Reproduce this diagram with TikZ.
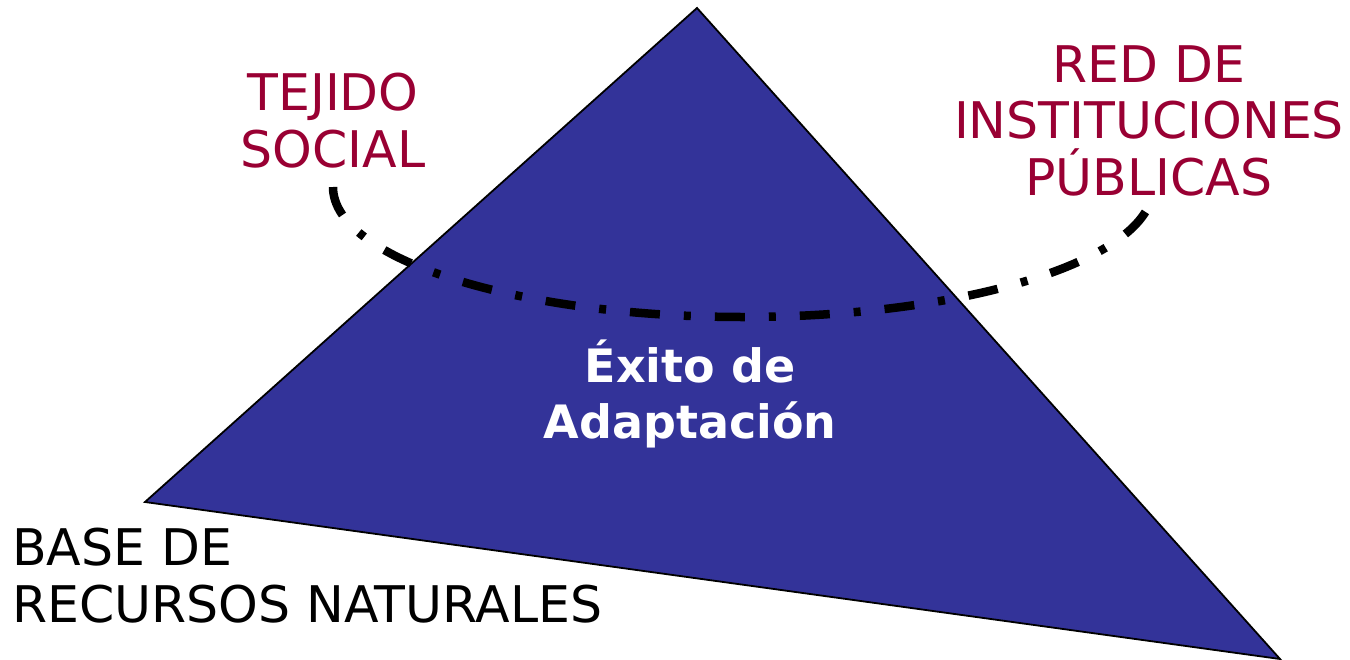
\documentclass[tikz,border=0pt]{standalone}
\usepackage{fontspec}
\setmainfont{DejaVu Sans}
\definecolor{triblue}{HTML}{333399}
\definecolor{lblred}{HTML}{990033}
\tikzset{
  lbl/.style={inner sep=0pt, align=center, font=\fontsize{50.5}{56.5}\selectfont},
  redlbl/.style={lbl, text=lblred},
  centerlbl/.style={inner sep=0pt, align=center, text=white, font=\fontsize{46}{56}\selectfont\bfseries},
  tri/.style={fill=triblue, draw=black, line width=1.8pt, line join=miter},
  dashdot/.style={line width=8.5pt, dash pattern=on 30pt off 24pt on 7pt off 24pt}
}
\begin{document}
\begin{tikzpicture}[x=1pt,y=-1pt]
\useasboundingbox (0,0) rectangle (1350,659);
\coordinate (top) at (697,8);
\coordinate (left) at (145,502);
\coordinate (right) at (1280,659);
\path[tri] (top) -- (left) -- (right) -- cycle;
\coordinate (arcstart) at (333,187);
\draw[dashdot] (arcstart) arc[start angle=180, end angle=356, x radius=410, y radius=-130];
\node[redlbl, anchor=base] (tejido) at (333,167) {TEJIDO\\SOCIAL};
\node[redlbl, anchor=base] (red) at (1149,195) {RED DE\\INSTITUCIONES\\PÚBLICAS};
\node[lbl, anchor=base west, align=left] (base) at (12,622) {BASE DE\\RECURSOS NATURALES};
\node[centerlbl, anchor=base] (exito) at (690,438) {Éxito de\\Adaptación};
\end{tikzpicture}
\end{document}
